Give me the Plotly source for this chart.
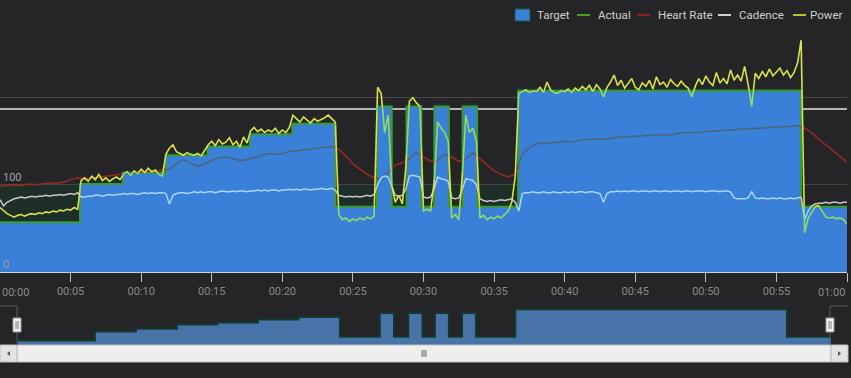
import plotly.graph_objects as go

# ---------------- data ----------------
# Target / Actual step definitions (minutes, watts)
target_times = [0, 5.67, 8.7, 11.73, 14.7, 17.7, 20.7, 23.76, 26.7, 27.75, 28.8, 29.85,
                30.77, 31.8, 32.77, 33.8, 36.7, 56.75, 60]
target_vals = [57, 101, 114, 134, 144, 158, 170, 75, 190, 75, 190, 75, 190, 75, 190, 75, 208, 75]
actual_vals = [100, 105, 118, 138, 148, 162, 174, 100, 194, 100, 194, 100, 194, 100, 194, 100, 212, 78]

# Power sampled every 0.25 min from 00:00 to 01:00
power = [74, 70, 67, 65, 63, 65, 66, 64, 66, 67, 66, 68, 67, 69, 68, 70, 69, 71, 70, 72, 71, 74, 72, 105,
         108, 104, 110, 106, 112, 105, 108, 104, 107, 109, 106, 112, 115, 111, 116, 113, 118, 114, 119, 115,
         117, 112, 110, 135, 142, 146, 138, 136, 134, 137, 135, 134, 136, 133, 140, 146, 150, 145, 152, 147,
         149, 154, 146, 150, 143, 155, 148, 162, 166, 161, 164, 160, 163, 161, 165, 159, 163, 160, 166, 180,
         176, 172, 178, 174, 171, 176, 173, 175, 177, 180, 176, 172, 66, 60, 62, 58, 61, 59, 62, 60,
         63, 61, 64, 212, 205, 160, 180, 100, 80, 88, 78, 120, 196, 200, 194, 190, 70, 72, 70, 100,
         172, 165, 160, 150, 62, 66, 60, 110, 180, 160, 165, 150, 62, 65, 60, 63, 61, 64, 62, 66,
         70, 80, 110, 205, 207, 209, 206, 208, 207, 212, 206, 218, 209, 206, 205, 208, 207, 210, 206, 211,
         208, 213, 209, 214, 207, 215, 210, 201, 212, 218, 226, 214, 220, 211, 216, 222, 212, 209, 217, 213,
         220, 210, 224, 215, 218, 212, 221, 216, 213, 219, 214, 211, 201, 213, 222, 215, 225, 218, 214, 229,
         217, 222, 216, 232, 220, 226, 219, 236, 215, 190, 228, 222, 230, 224, 233, 225, 229, 234, 226, 231,
         223, 229, 240, 266, 45, 62, 68, 75, 76, 70, 63, 62, 63, 61, 62, 60, 55]

# Cadence sampled every 0.25 min
cadence = [83, 76, 80, 82, 84, 85, 86, 85, 86, 87, 86, 87, 87, 88, 87, 88, 88, 89, 88, 89, 90, 89, 91, 86,
           86, 87, 87, 88, 88, 87, 88, 89, 88, 89, 89, 90, 89, 90, 90, 89, 90, 91, 90, 91, 90, 91, 91, 90,
           78, 88, 90, 91, 91, 90, 91, 92, 91, 92, 91, 92, 92, 91, 92, 93, 92, 92, 93, 92, 93, 93, 92, 93,
           93, 94, 93, 94, 93, 94, 94, 93, 94, 94, 95, 94, 95, 94, 95, 95, 94, 95, 95, 96, 95, 95, 96, 94,
           88, 87, 86, 87, 86, 87, 86, 87, 88, 87, 89, 100, 108, 110, 109, 98, 88, 87, 88, 95,
           110, 111, 110, 109, 86, 85, 86, 95, 109, 107, 106, 104, 85, 84, 85, 95, 107, 106, 105, 100,
           84, 82, 81, 82, 81, 82, 83, 82, 83, 84, 80, 70,
           90, 91, 91, 92, 91, 91, 92, 91, 91, 92, 91, 91, 92, 91, 92, 91, 92, 92, 91, 92,
           92, 91, 90, 80, 90, 92, 92, 93, 92, 93, 92, 93, 93, 92, 93, 93, 92, 93, 93, 92,
           93, 93, 92, 93, 93, 92, 93, 93, 92, 93, 93, 93, 92, 93, 93, 93, 92, 93, 93, 92,
           85, 84, 84, 84, 85, 92, 85, 84, 85, 84, 84, 85, 84, 85, 84, 84, 85, 84, 85, 86,
           60, 70, 76, 78, 79, 79, 80, 79, 80, 80, 79, 80, 80]

# Heart rate sampled every 0.5 min
heart_rate = [98, 99, 100, 99, 101, 100, 101, 102, 102, 103, 106, 108,
              107, 108, 109, 110, 111, 112, 113, 114, 115, 116, 116, 117,
              118, 124, 129, 125, 121, 124, 128, 131, 132, 130, 128, 129,
              131, 134, 136, 135, 136, 138, 139, 140, 141, 142, 143, 144,
              141, 133, 124, 118, 112, 108,
              107, 115, 123, 125, 130, 137, 132, 127, 128, 135, 132, 127, 130, 137, 130, 122, 116, 112, 109, 112,
              135, 143, 147, 148, 148, 149, 150, 149, 151, 152, 152, 153, 152, 154, 155, 155, 156, 156, 157, 157,
              158, 157, 159, 160, 160, 160, 161, 162, 162, 163, 163, 164, 164, 165, 165, 166, 166, 167, 167, 168,
              165, 160, 152, 146, 139, 132, 126]

x_tick_vals = [5, 10, 15, 20, 25, 30, 35, 40, 45, 50, 55, 60]
x_tick_text = ["00:05", "00:10", "00:15", "00:20", "00:25", "00:30", "00:35", "00:40",
               "00:45", "00:50", "00:55", ""]
y_tick_vals = [0, 100, 200]
y_tick_text = ["0", "100", ""]
legend_names = ["Target", "Actual", "Heart Rate", "Cadence", "Power"]

t_fine = [i * 0.25 for i in range(len(power))]
t_hr = [i * 0.5 for i in range(len(heart_rate))]

# ---------------- helpers ----------------
W, H = 851, 378
ML, MR, MT, MB = 0, 4, 28, 16
PW = W - ML - MR
PH = H - MT - MB


def px(x):
    return (x - ML) / PW


def py(y):
    return (H - MB - y) / PH


def tgt(t):
    for k in range(len(target_vals)):
        if t < target_times[k + 1]:
            return target_vals[k]
    return target_vals[-1]


def clip(ts, vs):
    up = ([], [])
    dn = ([], [])

    def add(which, p, q, vp, vq):
        xs, ys = up if which else dn
        if xs and xs[-1] is not None and abs(xs[-1] - p) < 1e-9 and abs(ys[-1] - vp) < 1e-9:
            xs.append(q)
            ys.append(vq)
        else:
            if xs:
                xs.append(None)
                ys.append(None)
            xs.extend([p, q])
            ys.extend([vp, vq])

    for i in range(len(ts) - 1):
        t0, t1, v0, v1 = ts[i], ts[i + 1], vs[i], vs[i + 1]
        cuts = [t0] + [b for b in target_times if t0 < b < t1] + [t1]
        for a, b in zip(cuts[:-1], cuts[1:]):
            va = v0 + (v1 - v0) * (a - t0) / (t1 - t0)
            vb = v0 + (v1 - v0) * (b - t0) / (t1 - t0)
            g = tgt((a + b) / 2)
            da, db = va - g, vb - g
            if da * db < 0:
                f = da / (da - db)
                c = a + f * (b - a)
                add(da > 0, a, c, va, g)
                add(db > 0, c, b, g, vb)
            else:
                add(da + db > 0, a, b, va, vb)
    return up, dn


BG = "#252527"
BLUE = "#3a7fd8"
step_y_t = target_vals + [target_vals[-1]]
step_y_a = actual_vals + [actual_vals[-1]]

fig = go.Figure()

# main: actual (dark fill) then target (blue)
fig.add_trace(go.Scatter(x=target_times, y=step_y_a, mode="lines", line=dict(shape="hv", width=0, color="#1d4a30"),
                         fill="tozeroy", fillcolor="rgba(20,64,42,0.38)", hoverinfo="skip", showlegend=False))
fig.add_trace(go.Scatter(x=target_times, y=step_y_t, mode="lines", line=dict(shape="hv", width=2, color="#3a9a34"),
                         fill="tozeroy", fillcolor=BLUE, hoverinfo="skip", showlegend=False))

series = [
    (t_hr, heart_rate, "#9a2a24", "#4d6478", 1.5),
    (t_fine, cadence, "#c9c9c9", "#a8d6ff", 1.5),
    (t_fine, power, "#d8e24c", "#8edb6a", 1.6),
]
for ts, vs, c_up, c_dn, w in series:
    up, dn = clip(ts, vs)
    fig.add_trace(go.Scatter(x=dn[0], y=dn[1], mode="lines", line=dict(color=c_dn, width=w),
                             connectgaps=False, hoverinfo="skip", showlegend=False))
    fig.add_trace(go.Scatter(x=up[0], y=up[1], mode="lines", line=dict(color=c_up, width=w),
                             connectgaps=False, hoverinfo="skip", showlegend=False))

# navigator
fig.add_trace(go.Scatter(x=target_times, y=step_y_t, mode="lines", xaxis="x2", yaxis="y2",
                         line=dict(shape="hv", width=2, color="#14382e"),
                         fill="tozeroy", fillcolor="#4873a8", hoverinfo="skip", showlegend=False))

shapes = []
# bright reference line
shapes.append(dict(type="line", xref="x", yref="y", x0=0, x1=60, y0=187, y1=187,
                   line=dict(color="#b4b4b4", width=2), layer="below"))

# scrollbar
sb_top, sb_bot = 345, 362
shapes.append(dict(type="rect", xref="paper", yref="paper", x0=px(17), x1=px(831), y0=py(sb_bot), y1=py(sb_top),
                   fillcolor="#eeeeee", line=dict(color="#bdbdbd", width=1)))
for bx0, bx1 in [(0, 17), (831, 848)]:
    shapes.append(dict(type="rect", xref="paper", yref="paper", x0=px(bx0), x1=px(bx1), y0=py(sb_bot), y1=py(sb_top),
                       fillcolor="#e3e3e3", line=dict(color="#bdbdbd", width=1)))
# arrows
shapes.append(dict(type="path", xref="paper", yref="paper",
                   path=f"M {px(7)} {py(353.5)} L {px(10)} {py(351)} L {px(10)} {py(356)} Z",
                   fillcolor="#555555", line=dict(width=0)))
shapes.append(dict(type="path", xref="paper", yref="paper",
                   path=f"M {px(841)} {py(353.5)} L {px(838)} {py(351)} L {px(838)} {py(356)} Z",
                   fillcolor="#555555", line=dict(width=0)))
# grip
for gx in [422, 424, 426]:
    shapes.append(dict(type="line", xref="paper", yref="paper", x0=px(gx), x1=px(gx), y0=py(357), y1=py(350),
                       line=dict(color="#666666", width=1)))
# navigator outline
shapes.append(dict(type="path", xref="paper", yref="paper",
                   path=f"M {px(0)} {py(306)} L {px(17)} {py(306)} L {px(17)} {py(345)}",
                   line=dict(color="#5a5a5a", width=1)))
shapes.append(dict(type="path", xref="paper", yref="paper",
                   path=f"M {px(848)} {py(306)} L {px(830)} {py(306)} L {px(830)} {py(345)}",
                   line=dict(color="#5a5a5a", width=1)))
# handles
for hx in [17, 830]:
    shapes.append(dict(type="rect", xref="paper", yref="paper", x0=px(hx - 4), x1=px(hx + 4), y0=py(332), y1=py(318),
                       fillcolor="#f2f2f2", line=dict(color="#9a9a9a", width=1)))
    for lx in [hx - 1, hx + 1]:
        shapes.append(dict(type="line", xref="paper", yref="paper", x0=px(lx), x1=px(lx), y0=py(329), y1=py(321),
                           line=dict(color="#777777", width=1)))

# legend (custom)
leg_y = 15
shapes.append(dict(type="rect", xref="paper", yref="paper", x0=px(515), x1=px(530), y0=py(21), y1=py(9),
                   fillcolor=BLUE, line=dict(color="#1d5a3a", width=1)))
for (x0, x1), col in zip([(577, 590), (637, 650), (718, 731), (793, 806)],
                         ["#4c9a2a", "#8a2020", "#d0d0d0", "#b8c034"]):
    shapes.append(dict(type="line", xref="paper", yref="paper", x0=px(x0), x1=px(x1), y0=py(leg_y), y1=py(leg_y),
                       line=dict(color=col, width=2)))

annotations = []
for name, tx in zip(legend_names, [535, 596, 656, 737, 808]):
    annotations.append(dict(text=name, xref="paper", yref="paper", x=px(tx), y=py(leg_y), xanchor="left",
                            yanchor="middle", showarrow=False, font=dict(size=11.5, color="#cfcfcf")))
# edge x labels
annotations.append(dict(text="00:00", xref="x", yref="paper", x=0, y=py(292), xanchor="left", yanchor="middle",
                        showarrow=False, font=dict(size=11, color="#8a8a8a")))
annotations.append(dict(text="01:00", xref="x", yref="paper", x=60, y=py(292), xanchor="right", yanchor="middle",
                        showarrow=False, font=dict(size=11, color="#8a8a8a")))

fig.update_layout(
    width=W, height=H,
    margin=dict(l=ML, r=MR, t=MT, b=MB),
    paper_bgcolor=BG, plot_bgcolor=BG,
    font=dict(family="Roboto", color="#8a8a8a"),
    showlegend=False,
    xaxis=dict(range=[0, 60], domain=[0, 1], anchor="y", tickvals=x_tick_vals, ticktext=x_tick_text,
               ticks="outside", ticklen=9, tickcolor="#bdbdbd", tickwidth=1, showgrid=False, zeroline=False,
               showline=True, linecolor="#cdd6e0", linewidth=1, tickfont=dict(size=11, color="#8a8a8a")),
    yaxis=dict(range=[0, 280], domain=[py(272), 1], tickvals=y_tick_vals, ticktext=y_tick_text,
               ticklabelposition="inside top", showgrid=True, gridcolor="#464646", gridwidth=1,
               zeroline=False, showline=False, ticks="", tickfont=dict(size=11, color="#a0a0a0")),
    xaxis2=dict(range=[0, 60], domain=[px(18), px(831)], anchor="y2", visible=False),
    yaxis2=dict(range=[35.5, 238], domain=[py(345), py(303)], anchor="x2", visible=False),
    shapes=shapes,
    annotations=annotations,
)

fig.write_html("out.html", config={"displayModeBar": False},
               post_script="document.body.style.margin='0';document.body.style.padding='0';"
                           "document.body.style.background='#252527';")
